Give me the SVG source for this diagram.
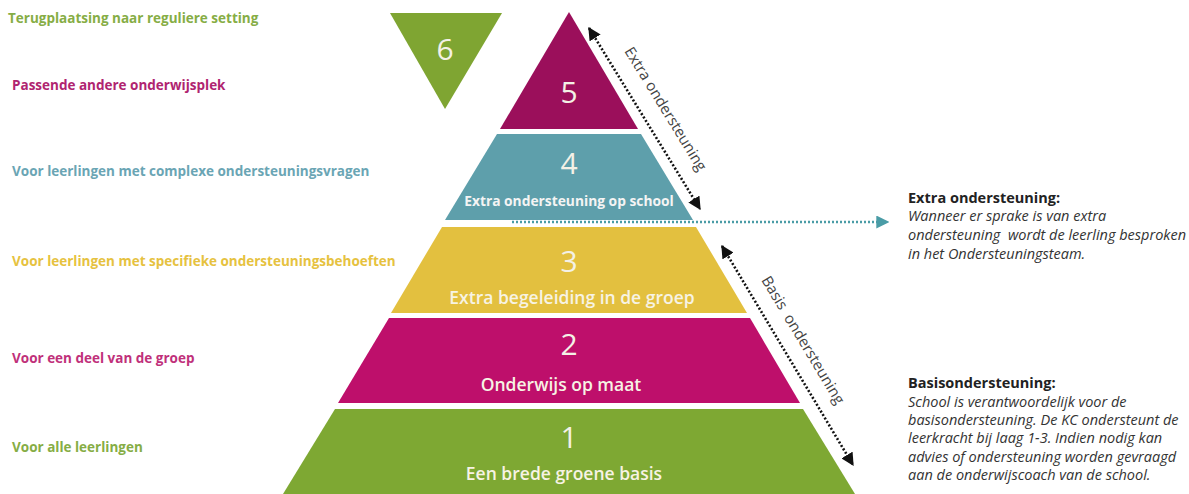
<svg xmlns="http://www.w3.org/2000/svg" width="1189" height="494" viewBox="0 0 1189 494">
<style>
.lbl{font-family:"Open Sans","Lato",sans-serif;font-weight:700;font-size:13.5px}
.num{font-family:"Open Sans","Liberation Sans",sans-serif;font-size:30px;fill:#f4f1e6;text-anchor:middle}
.cap{font-family:"Open Sans","Liberation Sans",sans-serif;font-weight:600;font-size:17.5px;fill:#f7f3e4;text-anchor:middle}
.capb{font-family:"Open Sans","Liberation Sans",sans-serif;font-weight:700;font-size:13.8px;fill:#f4f4f4;text-anchor:middle}
.rot{font-family:"Open Sans","Liberation Sans",sans-serif;font-size:15px;fill:#444}
.hd{font-family:"Open Sans","Liberation Sans",sans-serif;font-weight:700;font-size:14.5px;fill:#222}
.it{font-family:"Open Sans","Liberation Sans",sans-serif;font-style:italic;font-size:14.5px;fill:#333}
.dots{fill:none;stroke:#111;stroke-width:2.6;stroke-dasharray:2 2}
.tdots{fill:none;stroke:#4a9ca6;stroke-width:2.6;stroke-dasharray:2 2}
</style>
<defs>
<marker id="ah" viewBox="0 0 10 10" refX="9" refY="5" markerWidth="5" markerHeight="5" orient="auto-start-reverse"><path d="M0,0 L10,5 L0,10 Z" fill="#111"/></marker>
<marker id="aht" viewBox="0 0 10 10" refX="9" refY="5" markerWidth="5" markerHeight="5" orient="auto"><path d="M0,0 L10,5 L0,10 Z" fill="#4a9ca6"/></marker>
</defs>
<rect width="1189" height="494" fill="#ffffff"/>

<g id="labels">
<text class="lbl" x="8" y="23" fill="#86ad45">Terugplaatsing naar reguliere setting</text>
<text class="lbl" x="12" y="90" fill="#b02470">Passende andere onderwijsplek</text>
<text class="lbl" x="12" y="176" fill="#6aa5b4">Voor leerlingen met complexe ondersteuningsvragen</text>
<text class="lbl" x="12" y="266" fill="#e6c23f">Voor leerlingen met specifieke ondersteuningsbehoeften</text>
<text class="lbl" x="12" y="363" fill="#c0307a">Voor een deel van de groep</text>
<text class="lbl" x="12" y="452" fill="#86ad45">Voor alle leerlingen</text>
</g>

<g id="level6">
<polygon points="390,13 502,13 445,109" fill="#7fa532"/>
<text class="num" x="445" y="60">6</text>
</g>
<g id="level5">
<polygon points="569,12 638,129 500,129" fill="#9b0f5b"/>
<text class="num" x="569" y="103">5</text>
</g>
<g id="level4">
<polygon points="497,134 641,134 693,220 445,220" fill="#5e9fab"/>
<text class="num" x="569" y="174">4</text>
<text class="capb" x="569" y="206">Extra ondersteuning op school</text>
</g>
<g id="level3">
<polygon points="442,227 696,227 747,313 391,313" fill="#e3c03f"/>
<text class="num" x="569" y="272">3</text>
<text class="cap" x="572" y="304">Extra begeleiding in de groep</text>
</g>
<g id="level2">
<polygon points="389,318 750,318 800,403 338,403" fill="#be0f6b"/>
<text class="num" x="569" y="355">2</text>
<text class="cap" x="561" y="391">Onderwijs op maat</text>
</g>
<g id="level1">
<polygon points="335,409 803,409 855,494 283,494" fill="#7ea833"/>
<text class="num" x="569" y="448">1</text>
<text class="cap" x="564" y="480">Een brede groene basis</text>
</g>

<g id="connectors">
<line class="dots" x1="589" y1="28" x2="700" y2="209" marker-start="url(#ah)" marker-end="url(#ah)"/>
<line class="dots" x1="722" y1="246" x2="853" y2="465" marker-start="url(#ah)" marker-end="url(#ah)"/>
<line class="tdots" x1="512" y1="222" x2="888" y2="222" marker-end="url(#aht)"/>
<text class="rot" transform="translate(624,51) rotate(58.4)">Extra ondersteuning</text>
<text class="rot" transform="translate(761,280) rotate(59)" style="white-space:pre" xml:space="preserve">Basis  ondersteuning</text>
</g>

<g id="note-extra">
<text class="hd" x="908" y="203">Extra ondersteuning:</text>
<text class="it" x="908" y="221">Wanneer er sprake is van extra</text>
<text class="it" x="908" y="240" xml:space="preserve" style="white-space:pre">ondersteuning  wordt de leerling besproken</text>
<text class="it" x="908" y="259">in het Ondersteuningsteam.</text>
</g>
<g id="note-basis">
<text class="hd" x="908" y="388">Basisondersteuning:</text>
<text class="it" x="908" y="407">School is verantwoordelijk voor de</text>
<text class="it" x="908" y="425">basisondersteuning. De KC ondersteunt de</text>
<text class="it" x="908" y="443">leerkracht bij laag 1-3. Indien nodig kan</text>
<text class="it" x="908" y="462">advies of ondersteuning worden gevraagd</text>
<text class="it" x="908" y="480">aan de onderwijscoach van de school.</text>
</g>
</svg>
